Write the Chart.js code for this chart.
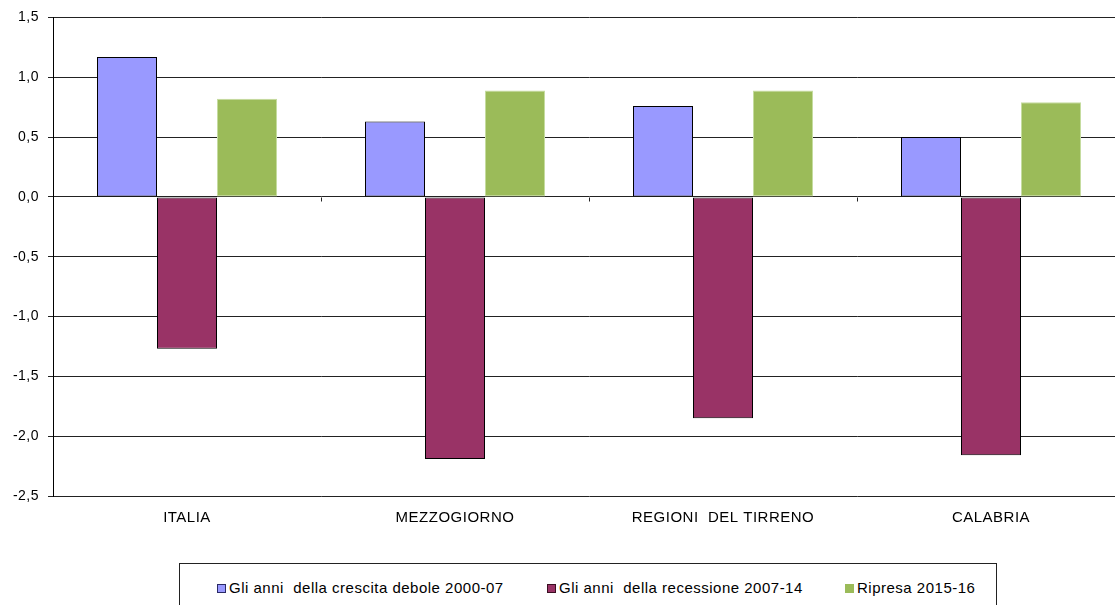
<!DOCTYPE html>
<html>
<head>
<meta charset="utf-8">
<script src="https://cdn.jsdelivr.net/npm/chart.js@4/dist/chart.umd.min.js"></script>
<style>
  html, body { margin: 0; padding: 0; background: #fff; overflow: hidden; width: 1115px; height: 605px; }
  #wrap { position: absolute; left: 0; top: 0; width: 1130px; height: 545px; }
  #legend {
    position: absolute; left: 179px; top: 563px; width: 818px; height: 60px;
    border: 1px solid #222; box-sizing: border-box;
    font-family: "Liberation Sans", Arial, sans-serif; font-size: 15px; letter-spacing: 0.5px; color: #000;
  }
  .item { position: absolute; top: 15px; white-space: pre; line-height: 17px; }
  .sw { display: inline-block; width: 9px; height: 9px; box-sizing: border-box; margin-right: 3px; vertical-align: 0px; }
</style>
</head>
<body>
<div id="wrap"><canvas id="c" width="1130" height="545"></canvas></div>
<div id="legend"></div>
<script>
// Categories and series (variazioni medie annue, %)
const categories = ['ITALIA', 'MEZZOGIORNO', 'REGIONI  DEL TIRRENO', 'CALABRIA'];
const seriesNames = ['Gli anni  della crescita debole 2000-07', 'Gli anni  della recessione 2007-14', 'Ripresa 2015-16'];
const crescitaDebole = [1.17, 0.63, 0.76, 0.50];
const recessione = [-1.27, -2.19, -1.85, -2.16];
const ripresa = [0.82, 0.89, 0.89, 0.79];
const yTicks = [1.5, 1.0, 0.5, 0.0, -0.5, -1.0, -1.5, -2.0, -2.5];

const fills = ['#9999ff', '#993366', '#9bbb59'];
const edges = ['#000000', '#000000', '#c5dc9f'];
const swatchEdges = ['#2a2a66', '#3a0f22', '#9bbb59'];

const FONT = '"Liberation Sans", Arial, sans-serif';
const SPACING = '0.5px';

// slightly wider letter spacing for all canvas text
const spacing = {
  id: 'spacing',
  beforeUpdate(chart) { chart.ctx.letterSpacing = SPACING; },
  beforeDraw(chart) { chart.ctx.letterSpacing = SPACING; }
};

// small tick marks on the zero line between categories
const zeroTicks = {
  id: 'zeroTicks',
  afterDatasetsDraw(chart) {
    const x = chart.scales.x, y = chart.scales.y, ctx = chart.ctx;
    const y0 = Math.round(y.getPixelForValue(0)) + 0.5;
    ctx.save();
    ctx.strokeStyle = '#222';
    ctx.lineWidth = 1;
    for (let i = 0; i < categories.length; i++) {
      const px = Math.round((x.getPixelForValue(i) + x.getPixelForValue(i + 1)) / 2) + 0.5;
      ctx.beginPath();
      ctx.moveTo(px, y0);
      ctx.lineTo(px, y0 + 4);
      ctx.stroke();
    }
    ctx.restore();
  }
};

const datasets = [crescitaDebole, recessione, ripresa].map((d, i) => ({
  label: seriesNames[i],
  data: d,
  backgroundColor: fills[i],
  borderColor: edges[i],
  borderWidth: 1,
  borderSkipped: false,
  categoryPercentage: 180 / 268,
  barPercentage: 1.0
}));

const canvas = document.getElementById('c');
canvas.getContext('2d').letterSpacing = SPACING;

new Chart(canvas, {
  type: 'bar',
  data: { labels: categories, datasets },
  options: {
    responsive: false,
    animation: false,
    layout: { padding: { top: 17, right: 5, left: 0, bottom: 0 } },
    plugins: { legend: { display: false }, tooltip: { enabled: false } },
    scales: {
      x: {
        grid: { display: false, drawTicks: false },
        border: { display: false },
        ticks: { color: '#000', font: { family: FONT, size: 15 }, padding: 13, maxRotation: 0, autoSkip: false },
        afterFit(s) { s.height = 49; }
      },
      y: {
        min: -2.5, max: 1.5,
        afterBuildTicks(s) { s.ticks = yTicks.map(v => ({ value: v })); },
        grid: { color: '#222', lineWidth: 1, drawTicks: true, tickLength: 5 },
        border: { display: true, color: '#000', width: 1 },
        ticks: {
          color: '#000', font: { family: FONT, size: 14 }, padding: 9,
          callback: v => v.toFixed(1).replace('.', ',')
        },
        afterFit(s) { s.width = 53; }
      }
    }
  },
  plugins: [spacing, zeroTicks]
});

// legend
const legend = document.getElementById('legend');
const lefts = [37, 367, 665];
seriesNames.forEach((name, i) => {
  const it = document.createElement('div');
  it.className = 'item';
  it.style.left = lefts[i] + 'px';
  const sw = document.createElement('span');
  sw.className = 'sw';
  sw.style.background = fills[i];
  sw.style.border = '1px solid ' + swatchEdges[i];
  it.appendChild(sw);
  it.appendChild(document.createTextNode(name));
  legend.appendChild(it);
});
</script>
</body>
</html>
